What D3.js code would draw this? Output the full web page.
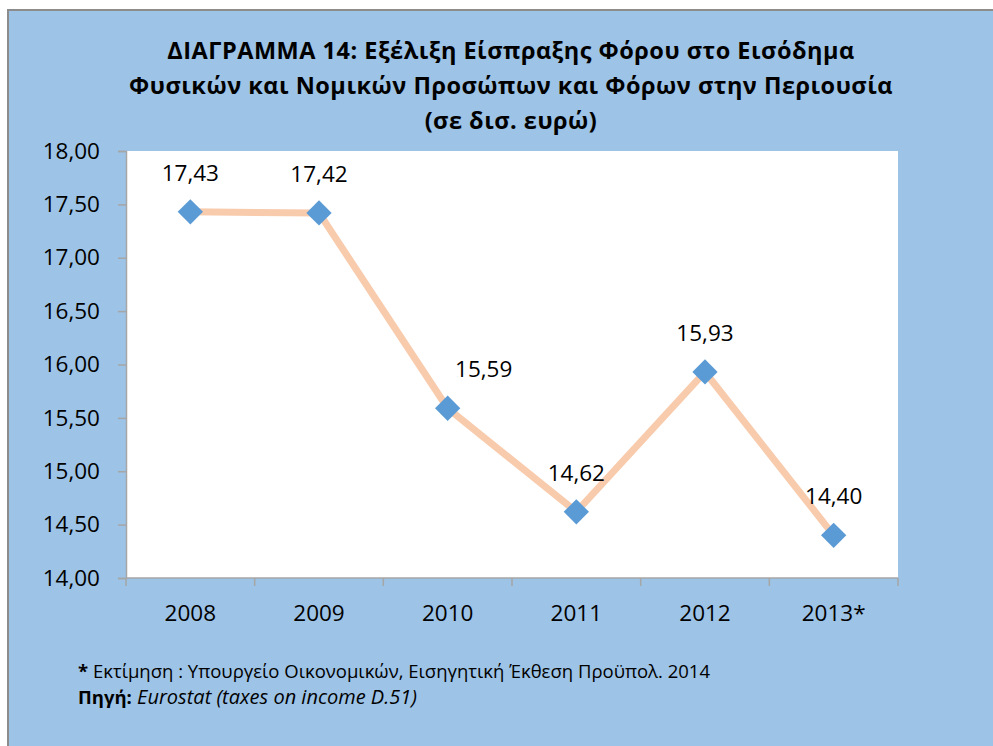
<!DOCTYPE html>
<html>
<head>
<meta charset="utf-8">
<script src="https://cdn.jsdelivr.net/npm/d3@7"></script>
<style>
  body { margin: 0; background: #fff; }
  text { font-family: "Open Sans", "DejaVu Sans", sans-serif; fill: #000; }
</style>
</head>
<body>
<script>
// chart data
var years = ["2008", "2009", "2010", "2011", "2012", "2013*"];
var values = [17.43, 17.42, 15.59, 14.62, 15.93, 14.40];
var yTicks = [14.0, 14.5, 15.0, 15.5, 16.0, 16.5, 17.0, 17.5, 18.0];
var titleLines = [
  "ΔΙΑΓΡΑΜΜΑ 14: Εξέλιξη Είσπραξης Φόρου στο Εισόδημα",
  "Φυσικών και Νομικών Προσώπων και Φόρων στην Περιουσία",
  "(σε δισ. ευρώ)"
];

var w = 993, h = 746;
var plot = { left: 126, right: 898, top: 151, bottom: 578 };

var svg = d3.select("body").append("svg")
  .attr("width", w)
  .attr("height", h);

// chart area background with gray edge top/left
svg.append("rect")
  .attr("x", 7).attr("y", 9)
  .attr("width", w).attr("height", h)
  .attr("fill", "#9DC3E6");
svg.append("path")
  .attr("d", "M8," + h + " V10 H" + w)
  .attr("fill", "none")
  .attr("stroke", "#8c8c8c")
  .attr("stroke-width", 2);

// title
svg.append("text")
  .attr("text-anchor", "middle")
  .attr("font-size", 23.5)
  .attr("font-weight", "bold")
  .attr("letter-spacing", 0.5)
  .selectAll("tspan")
  .data(titleLines)
  .enter()
  .append("tspan")
  .attr("x", 511)
  .attr("y", function (d, i) { return 59 + i * 35; })
  .text(function (d) { return d; });

// plot area
svg.append("rect")
  .attr("x", plot.left).attr("y", plot.top)
  .attr("width", plot.right - plot.left)
  .attr("height", plot.bottom - plot.top)
  .attr("fill", "#fff");

var x = d3.scaleBand().domain(years).range([plot.left, plot.right]);
var y = d3.scaleLinear().domain([14, 18]).range([plot.bottom, plot.top]);

var fmt = function (v) { return d3.format(".2f")(v).replace(".", ","); };

// y axis
var yAxis = svg.append("g")
  .attr("transform", "translate(" + plot.left + ",0)")
  .call(d3.axisLeft(y).tickValues(yTicks).tickFormat(fmt).tickSize(8).tickPadding(18));
yAxis.select(".domain").attr("stroke", "#a6a6a6").attr("stroke-width", 1.5);
yAxis.selectAll(".tick line").attr("stroke", "#a6a6a6").attr("stroke-width", 1.5);
yAxis.selectAll(".tick text")
  .attr("font-size", 22.5)
  .attr("font-family", "Open Sans")
  .attr("fill", "#000");

// x axis: ticks between categories
var xAxis = svg.append("g")
  .attr("transform", "translate(0," + plot.bottom + ")");
xAxis.append("line")
  .attr("x1", plot.left).attr("x2", plot.right)
  .attr("stroke", "#a6a6a6").attr("stroke-width", 1.5);
var bounds = years.map(function (d) { return x(d); }).concat([plot.right]);
xAxis.selectAll(".xtick")
  .data(bounds)
  .enter()
  .append("line")
  .attr("class", "xtick")
  .attr("x1", function (d) { return d; })
  .attr("x2", function (d) { return d; })
  .attr("y1", 0).attr("y2", 8)
  .attr("stroke", "#a6a6a6").attr("stroke-width", 1.5);
xAxis.selectAll(".xlabel")
  .data(years)
  .enter()
  .append("text")
  .attr("class", "xlabel")
  .attr("x", function (d) { return x(d) + x.bandwidth() / 2; })
  .attr("y", 43)
  .attr("text-anchor", "middle")
  .attr("font-size", 22.5)
  .text(function (d) { return d; });

// line + markers
var cx = function (d, i) { return x(years[i]) + x.bandwidth() / 2; };
var line = d3.line()
  .x(function (d, i) { return cx(d, i); })
  .y(function (d) { return y(d); });

svg.append("path")
  .datum(values)
  .attr("d", line)
  .attr("fill", "none")
  .attr("stroke", "#F8CBAD")
  .attr("stroke-width", 7)
  .attr("stroke-linejoin", "round");

var diamond = d3.symbol().type(d3.symbolSquare).size(320);
svg.selectAll(".marker")
  .data(values)
  .enter()
  .append("path")
  .attr("class", "marker")
  .attr("d", diamond)
  .attr("transform", function (d, i) { return "translate(" + cx(d, i) + "," + y(d) + ") rotate(45)"; })
  .attr("fill", "#5B9BD5");

// data labels (2010 label was nudged right in the original)
var labelNudge = function (i) { return i === 2 ? 36 : 0; };
svg.selectAll(".dlabel")
  .data(values)
  .enter()
  .append("text")
  .attr("class", "dlabel")
  .attr("x", function (d, i) { return cx(d, i) + labelNudge(i); })
  .attr("y", function (d) { return y(d) - 31; })
  .attr("text-anchor", "middle")
  .attr("font-size", 22.5)
  .text(function (d) { return fmt(d); });

// footnotes
var note1 = svg.append("text").attr("x", 78).attr("y", 678).attr("font-size", 18.5);
note1.append("tspan").attr("font-weight", "bold").text("*");
note1.append("tspan").text(" Εκτίμηση : Υπουργείο Οικονομικών, Εισηγητική Έκθεση Προϋπολ. 2014");

var note2 = svg.append("text").attr("x", 78).attr("y", 704).attr("font-size", 18.5);
note2.append("tspan").attr("font-weight", "bold").text("Πηγή:");
note2.append("tspan").attr("font-style", "italic").attr("font-size", 20).text(" Eurostat (taxes on income D.51)");
</script>
</body>
</html>
